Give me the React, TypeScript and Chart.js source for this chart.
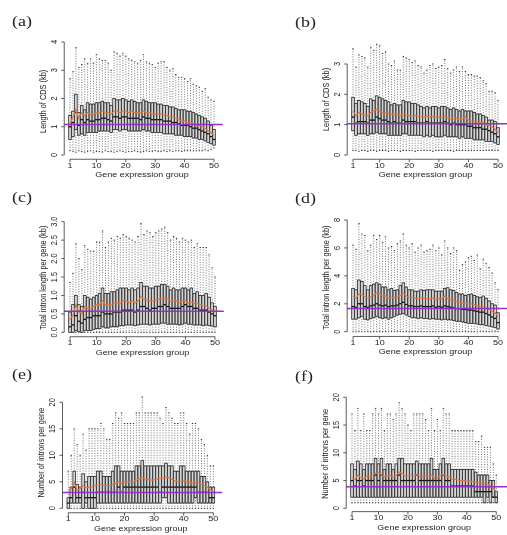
import React, { useEffect, useRef } from "react";
import { Chart, registerables } from "chart.js";

Chart.register(...registerables);

// ---- shared axis data ----
const groups: number[] = Array.from({ length: 50 }, (_, i) => i + 1);
const xTicks: number[] = [1, 10, 20, 30, 40, 50];
const xTitle = "Gene expression group";

// ---- (a) Length of CDS (kb) ----
const aLo = [0.15,0.12,0.1,0.15,0.12,0.1,0.12,0.15,0.1,0.12,0.12,0.1,0.15,0.12,0.12,0.1,0.12,0.15,0.12,0.1,0.12,0.12,0.15,0.12,0.1,0.12,0.15,0.12,0.12,0.15,0.12,0.12,0.15,0.12,0.15,0.12,0.15,0.15,0.12,0.15,0.15,0.15,0.15,0.15,0.15,0.15,0.18,0.15,0.2,0.25];
const aQ1 = [0.55,0.65,0.9,0.7,0.75,0.7,0.8,0.8,0.8,0.8,0.85,0.85,0.85,0.85,0.8,0.9,0.9,0.85,0.9,0.9,0.85,0.85,0.85,0.85,0.85,0.9,0.85,0.85,0.8,0.8,0.8,0.8,0.75,0.75,0.75,0.75,0.7,0.7,0.7,0.65,0.65,0.65,0.6,0.6,0.55,0.55,0.5,0.45,0.4,0.35];
const aMed = [1.0,1.15,1.5,1.05,1.25,1.15,1.25,1.2,1.2,1.25,1.25,1.3,1.3,1.25,1.2,1.35,1.35,1.3,1.35,1.35,1.3,1.3,1.3,1.3,1.25,1.35,1.3,1.3,1.25,1.25,1.25,1.25,1.2,1.2,1.2,1.15,1.15,1.1,1.05,1.05,1.05,1.0,0.95,0.95,0.9,0.85,0.8,0.75,0.65,0.55];
const aQ3 = [1.4,1.55,2.15,1.5,1.75,1.6,1.85,1.8,1.8,1.85,1.85,1.9,1.85,1.85,1.75,2.0,1.95,1.95,2.0,1.95,1.9,1.95,1.9,1.85,1.85,1.95,1.9,1.85,1.85,1.85,1.8,1.8,1.75,1.75,1.7,1.7,1.65,1.6,1.6,1.6,1.55,1.55,1.5,1.45,1.4,1.35,1.3,1.2,1.05,0.9];
const aHi = [2.7,2.95,3.8,3.1,3.2,3.4,3.25,3.4,3.25,3.55,3.4,3.35,3.35,3.25,3.0,3.65,3.6,3.5,3.6,3.5,3.4,3.35,3.3,3.25,3.35,3.55,3.3,3.25,3.2,3.1,3.25,3.3,3.3,3.1,3.0,3.05,2.85,2.75,2.75,2.7,2.6,2.7,2.5,2.45,2.4,2.25,2.35,2.05,1.95,1.9];
const aMean = [1.1,1.35,1.6,1.3,1.5,1.4,1.5,1.45,1.45,1.5,1.5,1.55,1.5,1.5,1.45,1.55,1.55,1.5,1.55,1.55,1.5,1.55,1.5,1.5,1.5,1.55,1.5,1.5,1.45,1.45,1.45,1.45,1.4,1.4,1.35,1.35,1.3,1.25,1.2,1.2,1.15,1.15,1.1,1.05,1.05,1.0,0.95,0.85,0.8,0.7];
const aRef = 1.08;
const aYTicks = [0, 1, 2, 3, 4];
const aYLabels = ["0", "1", "2", "3", "4"];

// ---- (b) Length of CDS (kb) ----
const bLo = [0.15,0.15,0.12,0.15,0.15,0.12,0.15,0.15,0.12,0.15,0.15,0.15,0.12,0.15,0.15,0.15,0.12,0.15,0.15,0.15,0.15,0.12,0.15,0.15,0.15,0.15,0.15,0.12,0.15,0.15,0.15,0.15,0.15,0.15,0.12,0.15,0.15,0.15,0.15,0.15,0.15,0.15,0.15,0.15,0.15,0.15,0.15,0.15,0.15,0.15];
const bQ1 = [0.8,0.65,0.7,0.7,0.7,0.65,0.7,0.7,0.75,0.7,0.7,0.7,0.65,0.65,0.65,0.65,0.65,0.7,0.7,0.65,0.65,0.65,0.65,0.65,0.6,0.65,0.6,0.65,0.6,0.6,0.6,0.65,0.6,0.6,0.6,0.6,0.55,0.6,0.55,0.55,0.55,0.5,0.5,0.5,0.5,0.45,0.45,0.45,0.4,0.35];
const bMed = [1.25,1.05,1.1,1.1,1.1,1.05,1.15,1.15,1.25,1.2,1.15,1.15,1.1,1.05,1.1,1.05,1.05,1.15,1.1,1.1,1.1,1.1,1.05,1.05,1.05,1.1,1.05,1.05,1.05,1.05,1.05,1.1,1.05,1.0,1.05,1.0,1.0,1.0,1.0,0.95,0.95,0.9,0.9,0.9,0.85,0.85,0.8,0.75,0.7,0.6];
const bQ3 = [1.9,1.7,1.8,1.75,1.7,1.6,1.85,1.8,1.95,1.9,1.85,1.8,1.75,1.65,1.7,1.65,1.65,1.8,1.75,1.75,1.7,1.7,1.65,1.6,1.55,1.6,1.55,1.6,1.6,1.55,1.6,1.6,1.55,1.5,1.55,1.5,1.45,1.5,1.45,1.45,1.45,1.4,1.35,1.35,1.3,1.25,1.15,1.15,1.1,0.9];
const bHi = [3.5,2.9,3.3,3.25,3.2,2.9,3.55,3.45,3.65,3.6,3.35,3.4,3.0,2.95,3.1,2.8,2.8,3.25,3.2,3.15,3.05,3.1,2.95,2.9,2.7,2.8,2.95,3.0,2.85,2.9,2.95,3.15,2.85,2.7,2.8,2.9,2.75,2.9,2.75,2.65,2.65,2.6,2.6,2.55,2.45,2.35,2.1,2.1,2.05,1.8];
const bMean = [1.45,1.3,1.4,1.35,1.3,1.3,1.4,1.45,1.5,1.45,1.4,1.4,1.38,1.35,1.35,1.32,1.3,1.35,1.32,1.3,1.3,1.3,1.28,1.27,1.25,1.28,1.25,1.27,1.25,1.25,1.24,1.27,1.23,1.2,1.22,1.2,1.17,1.2,1.25,1.15,1.12,1.1,1.08,1.07,1.05,1.0,0.97,0.93,0.85,0.75];
const bRef = 1.03;
const bYTicks = [0, 1, 2, 3];
const bYLabels = ["0", "1", "2", "3"];

// ---- (c) Total intron length per gene (kb) ----
const cLo = [0,0,0,0,0,0,0,0,0,0,0,0,0,0,0,0,0,0,0,0,0,0,0,0,0,0,0,0,0,0,0,0,0,0,0,0,0,0,0,0,0,0,0,0,0,0,0,0,0,0];
const cQ1 = [0,0,0.05,0.02,0,0.05,0.05,0.05,0.08,0.1,0.1,0.15,0.12,0.12,0.15,0.15,0.15,0.18,0.18,0.2,0.2,0.2,0.18,0.2,0.22,0.22,0.22,0.2,0.22,0.22,0.22,0.25,0.25,0.22,0.22,0.22,0.22,0.2,0.22,0.25,0.22,0.22,0.2,0.2,0.2,0.18,0.2,0.18,0.17,0.15];
const cMed = [0.15,0.2,0.45,0.3,0.25,0.35,0.4,0.4,0.45,0.45,0.45,0.55,0.5,0.5,0.5,0.55,0.55,0.55,0.6,0.6,0.6,0.6,0.55,0.6,0.7,0.7,0.65,0.6,0.65,0.65,0.7,0.7,0.75,0.7,0.65,0.65,0.65,0.65,0.7,0.75,0.7,0.7,0.65,0.65,0.6,0.6,0.6,0.55,0.5,0.45];
const cQ3 = [0.55,0.75,1.0,0.75,0.7,1.0,0.95,0.9,0.95,1.0,1.05,1.2,1.05,1.05,1.1,1.1,1.15,1.2,1.2,1.2,1.15,1.2,1.15,1.2,1.35,1.25,1.25,1.2,1.2,1.25,1.25,1.3,1.3,1.25,1.15,1.2,1.15,1.15,1.2,1.2,1.15,1.2,1.05,1.1,1.0,1.0,1.05,0.95,0.8,0.7];
const cHi = [1.35,1.6,2.4,2.0,1.7,2.35,2.25,2.2,2.2,2.45,2.45,2.75,2.3,2.45,2.55,2.5,2.6,2.55,2.65,2.6,2.55,2.5,2.45,2.6,2.95,2.65,2.75,2.7,2.6,2.7,2.75,2.8,2.85,2.7,2.5,2.6,2.55,2.45,2.55,2.5,2.45,2.5,2.3,2.4,2.3,2.3,2.3,2.1,1.75,1.5];
const cMean = [0.35,0.45,0.75,0.55,0.5,0.7,0.65,0.65,0.7,0.75,0.75,0.85,0.75,0.75,0.75,0.8,0.8,0.8,0.85,0.85,0.8,0.85,0.8,0.85,0.97,0.9,0.88,0.85,0.85,0.88,0.9,0.9,0.92,0.9,0.85,0.85,0.85,0.8,0.85,0.85,0.8,0.82,0.78,0.78,0.75,0.72,0.72,0.65,0.6,0.55];
const cRef = 0.57;
const cYTicks = [0, 0.5, 1, 1.5, 2, 2.5, 3];
const cYLabels = ["0.0", "0.5", "1.0", "1.5", "2.0", "2.5", "3.0"];

// ---- (d) Total intron length per gene (kb) ----
const dLo = [0,0,0,0,0,0,0,0,0,0,0,0,0,0,0,0,0,0,0,0,0,0,0,0,0,0,0,0,0,0,0,0,0,0,0,0,0,0,0,0,0,0,0,0,0,0,0,0,0,0];
const dQ1 = [0.9,0.9,1.0,1.1,0.9,0.85,0.95,1.0,1.1,1.0,0.95,1.0,0.9,1.0,1.1,1.2,1.25,1.3,1.2,1.1,1.0,1.0,0.95,1.0,0.95,0.95,0.9,0.95,0.9,0.9,0.85,0.9,0.85,0.85,0.8,0.75,0.75,0.7,0.65,0.6,0.6,0.6,0.55,0.5,0.5,0.45,0.4,0.35,0.3,0.2];
const dMed = [1.8,1.75,2.0,2.0,1.8,1.75,1.85,1.9,2.0,1.9,1.85,1.9,1.8,1.85,1.85,1.9,2.0,2.1,1.95,1.85,1.85,1.8,1.8,1.85,1.8,1.8,1.8,1.85,1.75,1.8,1.75,1.85,1.8,1.75,1.7,1.65,1.65,1.6,1.6,1.55,1.55,1.5,1.45,1.4,1.4,1.3,1.2,1.05,0.95,0.65];
const dQ3 = [3.1,3.0,3.7,3.6,3.3,3.0,3.3,3.4,3.5,3.4,3.2,3.2,3.0,3.1,2.95,3.0,3.3,3.5,3.2,3.0,3.0,2.9,2.9,3.0,2.95,3.0,3.0,3.0,2.9,2.9,2.9,3.1,3.15,3.0,2.95,2.8,2.7,2.7,2.6,2.65,2.7,2.6,2.5,2.45,2.55,2.4,2.2,2.0,1.9,1.35];
const dHi = [6.2,5.9,7.75,7.0,6.9,5.8,6.2,6.9,6.6,6.9,6.4,6.8,6.0,6.1,5.8,6.3,6.5,7.0,6.2,6.0,6.3,5.7,6.0,6.2,5.7,5.8,5.9,6.2,5.8,6.0,5.5,6.5,6.0,5.6,6.0,5.8,4.4,4.8,5.0,5.3,5.4,5.1,5.5,4.5,5.2,4.9,4.6,4.2,3.5,3.0];
const dMean = [2.5,2.4,2.7,2.65,2.5,2.4,2.5,2.6,2.8,2.7,2.55,2.55,2.4,2.45,2.45,2.5,2.6,2.75,2.55,2.45,2.45,2.4,2.35,2.45,2.4,2.35,2.35,2.4,2.3,2.35,2.35,2.55,2.4,2.3,2.25,2.15,2.1,2.05,2.05,2.0,2.0,1.95,1.85,1.8,1.8,1.7,1.6,1.45,1.35,1.1];
const dRef = 1.67;
const dYTicks = [0, 2, 4, 6, 8];
const dYLabels = ["0", "2", "4", "6", "8"];

// ---- (e) Number of introns per gene ----
const eLo = [0,0,0,0,0,0,0,0,0,0,0,0,0,0,0,0,0,0,0,0,0,0,0,0,0,0,0,0,0,0,0,0,0,0,0,0,0,0,0,0,0,0,0,0,0,0,0,0,0,0];
const eQ1 = [0,1,1,1,1,0,1,0,0,0,1,1,1,1,1,1,1,1,1,1,1,1,1,1,1,1,1,1,1,1,1,1,2,2,1,1,1,1,1,1,1,1,1,2,1,1,1,1,1,1];
const eMed = [1,2,4,2,2,3,2,2,2,2,3,3,3,3,3,3,3,4,3,4,4,4,4,4,4,4,4,4,4,4,4,3,4,4,4,4,4,4,4,4,4,4,4,4,3,3,3,3,2,2];
const eQ3 = [2,4,7,4.5,4,6.5,5,6,6,6,7,7,6,6,6,7,8,8,7,7,7,7,7,8,8,9,8,8,8,8,8,8,8,8.5,8,8,7,7,8,8,7,7,7,7,7,6,6,5,4,4];
const eHi = [7,10,15,12,10,14,11,15,15,15,15,16,15,13,13,16,18,17,18,16,16,16,16,18,18,21,18,18,18,18,18,17,16,19,18,17,16,16,18,18,16,14,16,16,15,13,12,10,8,8];
const eMean = [3.0,3.6,4.9,3.4,3.7,4.2,3.9,4.0,4.1,4.3,4.4,4.5,4.3,4.3,4.3,4.5,4.7,5.0,4.8,5.0,5.0,5.1,5.0,5.3,5.6,5.8,5.5,5.4,5.3,5.4,5.5,5.6,5.7,5.9,5.8,5.5,5.2,5.0,5.1,5.2,5.0,4.9,4.8,4.8,4.7,4.5,4.3,4.0,3.5,3.0];
const eRef = 3;
const eYTicks = [0, 5, 10, 15, 20];
const eYLabels = ["0", "5", "10", "15", "20"];

// ---- (f) Number of introns per gene ----
const fLo = [1,1,1,1,1,1,1,1,1,1,1,1,1,1,1,1,1,1,1,1,1,1,1,1,1,1,1,1,1,1,1,1,1,1,1,1,1,1,1,1,1,1,1,1,1,1,1,1,1,1];
const fQ1 = [2,2,2,2,2,2,2,2,2,2,2,2,2,2,2,2,2,2,2,2,2,2,2,2,2,2,2,2,2,2,2,2,2,2,2,2,2,2,2,2,2,2,2,2,2,1,2,1,2,1];
const fMed = [5,4,5,5,4,5,5,5,6,5,6,5,5,5,5,5,6,5,5,5,5,5,6,5,5,5,5,5,5,5,5,6,5,5,4,4,4,4,4,4,4,4,3,3,3,3,3,3,2,2];
const fQ3 = [8,7,8.5,8,7,8,8,8,9,8,9,7,8,8,7,8,9,9,8,8,8,8,8.5,8,8,8,8,9,7,7,8,9,8,8,7,7,7,7,7,7,7,7,6.5,6,6,6,6,5,5,3];
const fHi = [17,14,18,14,17,14,14,17,18,17,18,14,17,17,16,17,19,18,17,15,14,17,17,17,17,16,14,18,14,16,14,18,17,17,14,14,14,14,14,14,14,14,12,12,13,11,11,11,8,6];
const fMean = [5.6,5.2,6.0,5.6,5.3,5.8,5.7,5.9,6.3,6.4,6.1,5.6,5.8,5.9,5.6,5.9,6.5,6.3,5.8,5.9,6.0,5.8,6.1,5.8,5.7,5.9,5.7,6.0,5.4,5.5,5.9,6.1,5.8,5.6,5.3,5.2,5.1,5.0,5.0,4.9,4.9,4.8,4.7,4.6,4.6,4.4,4.3,4.1,3.6,3.0];
const fRef = 3.9;
const fYTicks = [0, 5, 10, 15, 20];
const fYLabels = ["0", "5", "10", "15", "20"];

// ---- drawing styles ----
const W = 507;
const H = 535;
const SANS = '"Liberation Sans", Arial, Helvetica, sans-serif';
const SERIF = '"Liberation Serif", "DejaVu Serif", serif';
const SQUASH = 0.82;
const BOX_FILL = "#d6d6d6";
const BOX_EDGE = "#2a2a2a";
const WHISKER = "#6a6a6a";
const MEAN_COLOR = "#e2773e";
const REF_COLOR = "#9630cc";
const TEXT = "#222";

type Frame = {
  x1: number; x50: number; y0: number; yTopPx: number; yTopVal: number;
  yMin: number; yMax: number;
};

type Panel = {
  tag: string; tagX: number; tagY: number;
  yTitle: string;
  lo: number[]; q1: number[]; med: number[]; q3: number[]; hi: number[]; mean: number[];
  ref: number; refToEdge: boolean;
  yTicks: number[]; yLabels: string[];
  frame: Frame;
};

const X_MIN = -0.96;
const X_MAX = 51.96;

const panels: Panel[] = [
  { tag: "(a)", tagX: 12, tagY: 22, yTitle: "Length of CDS (kb)",
    lo: aLo, q1: aQ1, med: aMed, q3: aQ3, hi: aHi, mean: aMean, ref: aRef, refToEdge: false,
    yTicks: aYTicks, yLabels: aYLabels,
    frame: { x1: 70, x50: 214, y0: 155, yTopPx: 42, yTopVal: 4, yMin: -0.15, yMax: 3.95 } },
  { tag: "(b)", tagX: 295, tagY: 23, yTitle: "Length of CDS (kb)",
    lo: bLo, q1: bQ1, med: bMed, q3: bQ3, hi: bHi, mean: bMean, ref: bRef, refToEdge: true,
    yTicks: bYTicks, yLabels: bYLabels,
    frame: { x1: 353, x50: 498, y0: 155, yTopPx: 64, yTopVal: 3, yMin: -0.14, yMax: 3.8 } },
  { tag: "(c)", tagX: 12, tagY: 198, yTitle: "Total intron length per gene (kb)",
    lo: cLo, q1: cQ1, med: cMed, q3: cQ3, hi: cHi, mean: cMean, ref: cRef, refToEdge: false,
    yTicks: cYTicks, yLabels: cYLabels,
    frame: { x1: 70, x50: 215, y0: 332.3, yTopPx: 221.7, yTopVal: 3, yMin: -0.12, yMax: 3.08 } },
  { tag: "(d)", tagX: 295, tagY: 199, yTitle: "Total intron length per gene (kb)",
    lo: dLo, q1: dQ1, med: dMed, q3: dQ3, hi: dHi, mean: dMean, ref: dRef, refToEdge: true,
    yTicks: dYTicks, yLabels: dYLabels,
    frame: { x1: 353, x50: 498, y0: 331.7, yTopPx: 220, yTopVal: 8, yMin: -0.34, yMax: 8.1 } },
  { tag: "(e)", tagX: 12, tagY: 375, yTitle: "Number of introns per gene",
    lo: eLo, q1: eQ1, med: eMed, q3: eQ3, hi: eHi, mean: eMean, ref: eRef, refToEdge: false,
    yTicks: eYTicks, yLabels: eYLabels,
    frame: { x1: 68.3, x50: 213.3, y0: 508.3, yTopPx: 402.3, yTopVal: 20, yMin: -0.84, yMax: 21.84 } },
  { tag: "(f)", tagX: 295, tagY: 377, yTitle: "Number of introns per gene",
    lo: fLo, q1: fQ1, med: fMed, q3: fQ3, hi: fHi, mean: fMean, ref: fRef, refToEdge: true,
    yTicks: fYTicks, yLabels: fYLabels,
    frame: { x1: 352, x50: 496.3, y0: 508.3, yTopPx: 397.3, yTopVal: 20, yMin: -0.6, yMax: 20.2 } },
];

// plot region (in page pixels) implied by a frame
function regionOf(f: Frame) {
  const ux = (f.x50 - f.x1) / 49;
  const uy = (f.y0 - f.yTopPx) / f.yTopVal;
  return {
    left: f.x1 - (1 - X_MIN) * ux,
    right: f.x50 + (X_MAX - 50) * ux,
    top: f.y0 - f.yMax * uy,
    bottom: f.y0 - f.yMin * uy,
  };
}

function hText(ctx: CanvasRenderingContext2D, s: string, x: number, y: number, font: string, align: CanvasTextAlign = "center") {
  ctx.save();
  ctx.translate(x, y);
  ctx.scale(1, SQUASH);
  ctx.font = font;
  ctx.fillStyle = TEXT;
  ctx.textAlign = align;
  ctx.textBaseline = "middle";
  ctx.fillText(s, 0, 0);
  ctx.restore();
}

function vText(ctx: CanvasRenderingContext2D, s: string, x: number, y: number, font: string) {
  ctx.save();
  ctx.translate(x, y);
  ctx.rotate(-Math.PI / 2);
  ctx.scale(SQUASH, 1);
  ctx.font = font;
  ctx.fillStyle = TEXT;
  ctx.textAlign = "center";
  ctx.textBaseline = "middle";
  ctx.fillText(s, 0, 0);
  ctx.restore();
}

function seg(ctx: CanvasRenderingContext2D, x1: number, y1: number, x2: number, y2: number) {
  ctx.beginPath();
  ctx.moveTo(x1, y1);
  ctx.lineTo(x2, y2);
  ctx.stroke();
}

function panelPlugin(p: Panel) {
  return {
    id: "boxPanel",
    beforeDatasetsDraw(chart: any) {
      const ctx: CanvasRenderingContext2D = chart.ctx;
      const xs = chart.scales.x;
      const ys = chart.scales.y;
      const hw = 0.45 * (xs.getPixelForValue(2) - xs.getPixelForValue(1));
      ctx.save();
      // dotted whiskers with end staples
      groups.forEach((g, i) => {
        const x = xs.getPixelForValue(g);
        ctx.strokeStyle = WHISKER;
        ctx.lineWidth = 0.9;
        ctx.setLineDash([1, 1.5]);
        seg(ctx, x, ys.getPixelForValue(p.q3[i]), x, ys.getPixelForValue(p.hi[i]));
        seg(ctx, x, ys.getPixelForValue(p.q1[i]), x, ys.getPixelForValue(p.lo[i]));
        ctx.setLineDash([]);
        ctx.strokeStyle = "#333";
        ctx.lineWidth = 1;
        const yh = ys.getPixelForValue(p.hi[i]);
        const yl = ys.getPixelForValue(p.lo[i]);
        seg(ctx, x - hw / 2, yh, x + hw / 2, yh);
        seg(ctx, x - hw / 2, yl, x + hw / 2, yl);
      });
      // boxes with medians
      groups.forEach((g, i) => {
        const x = xs.getPixelForValue(g);
        const yq1 = ys.getPixelForValue(p.q1[i]);
        const yq3 = ys.getPixelForValue(p.q3[i]);
        const ym = ys.getPixelForValue(p.med[i]);
        ctx.fillStyle = BOX_FILL;
        ctx.fillRect(x - hw, yq3, 2 * hw, yq1 - yq3);
        ctx.strokeStyle = BOX_EDGE;
        ctx.lineWidth = 0.8;
        ctx.strokeRect(x - hw, yq3, 2 * hw, yq1 - yq3);
        ctx.strokeStyle = "#111";
        ctx.lineWidth = 1.3;
        seg(ctx, x - hw, ym, x + hw, ym);
      });
      ctx.restore();
    },
    afterDatasetsDraw(chart: any) {
      const ctx: CanvasRenderingContext2D = chart.ctx;
      const ys = chart.scales.y;
      const area = chart.chartArea;
      const y = ys.getPixelForValue(p.ref);
      ctx.save();
      ctx.strokeStyle = REF_COLOR;
      ctx.lineWidth = 1.5;
      seg(ctx, area.left, y, p.refToEdge ? chart.width : area.right + 3, y);
      ctx.restore();
    },
    afterDraw(chart: any) {
      const ctx: CanvasRenderingContext2D = chart.ctx;
      const xs = chart.scales.x;
      const ys = chart.scales.y;
      const area = chart.chartArea;
      const font = `9px ${SANS}`;
      ctx.save();
      ctx.strokeStyle = "#333";
      ctx.lineWidth = 0.8;
      // y axis
      const yb = ys.getPixelForValue(p.yTicks[0]);
      const yt = ys.getPixelForValue(p.yTicks[p.yTicks.length - 1]);
      seg(ctx, area.left, yb, area.left, yt);
      p.yTicks.forEach((v, k) => {
        const y = ys.getPixelForValue(v);
        seg(ctx, area.left, y, area.left - 3, y);
        vText(ctx, p.yLabels[k], area.left - 10, y, font);
      });
      // x axis
      seg(ctx, xs.getPixelForValue(xTicks[0]), area.bottom, xs.getPixelForValue(xTicks[xTicks.length - 1]), area.bottom);
      xTicks.forEach((v) => {
        const x = xs.getPixelForValue(v);
        seg(ctx, x, area.bottom, x, area.bottom + 3);
        hText(ctx, String(v), x, area.bottom + 6.5, font);
      });
      hText(ctx, xTitle, (area.left + area.right) / 2, area.bottom + 16, font);
      vText(ctx, p.yTitle, area.left - 20.5, (area.top + area.bottom) / 2, font);
      hText(ctx, p.tag, p.tagX, p.tagY, `18px ${SERIF}`, "left");
      ctx.restore();
    },
  };
}

function PanelChart({ panel }: { panel: Panel }) {
  const ref = useRef<HTMLCanvasElement | null>(null);
  useEffect(() => {
    if (!ref.current) return;
    const r = regionOf(panel.frame);
    const chart = new Chart(ref.current, {
      type: "line",
      data: {
        datasets: [
          {
            data: groups.map((g, i) => ({ x: g, y: panel.mean[i] })),
            borderColor: MEAN_COLOR,
            borderWidth: 1.2,
            pointRadius: 0,
            fill: false,
            tension: 0,
          },
        ],
      },
      options: {
        animation: false,
        responsive: false,
        events: [],
        layout: { padding: { left: r.left, right: W - r.right, top: r.top, bottom: H - r.bottom } },
        scales: {
          x: { type: "linear", min: X_MIN, max: X_MAX, display: false },
          y: { type: "linear", min: panel.frame.yMin, max: panel.frame.yMax, display: false },
        },
        plugins: { legend: { display: false }, tooltip: { enabled: false } },
      },
      plugins: [panelPlugin(panel)],
    } as any);
    return () => chart.destroy();
  }, [panel]);
  return (
    <canvas
      ref={ref}
      width={W}
      height={H}
      style={{ position: "absolute", left: 0, top: 0, width: W, height: H }}
    />
  );
}

export default function App() {
  return (
    <div style={{ position: "fixed", left: 0, top: 0, width: W, height: H, background: "#fff" }}>
      {panels.map((p) => (
        <PanelChart key={p.tag} panel={p} />
      ))}
    </div>
  );
}
